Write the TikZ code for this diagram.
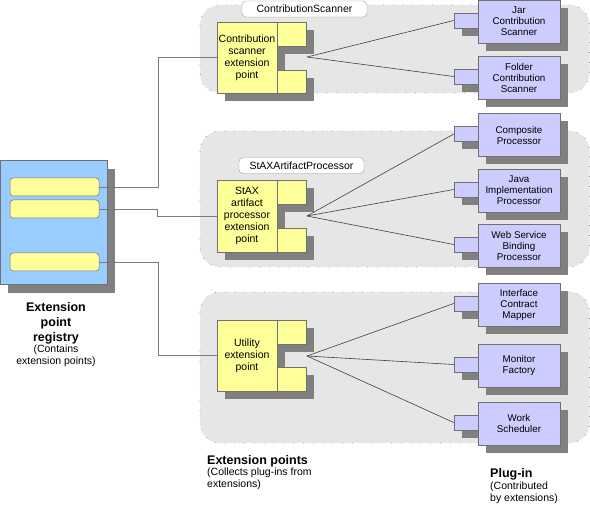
\documentclass[tikz,border=0pt]{standalone}
\usepackage{fontspec}
\setmainfont{Liberation Sans}
\definecolor{regblue}{HTML}{99CCFF}
\definecolor{epyellow}{HTML}{FFFF99}
\definecolor{plav}{HTML}{CCCCFF}
\definecolor{contgray}{HTML}{E6E6E6}
\definecolor{shgray}{HTML}{808080}
\definecolor{edgecol}{HTML}{707070}
\definecolor{linecol}{HTML}{404040}
\definecolor{reglinecol}{HTML}{7A7A7A}
\begin{document}
\begin{tikzpicture}[x=1pt,y=-1pt,
  container/.style={fill=contgray,draw=gray!80,line width=0.8pt,dash pattern=on 0.8pt off 9pt,rounded corners=20pt},
  clabel/.style={fill=white,draw=gray!80,rounded corners=4pt,minimum width=125pt,minimum height=16pt,inner sep=0pt,font=\fontsize{10.5}{12}\selectfont},
  shadowbox/.style={fill=shgray,draw=none,inner sep=0pt},
  epmain/.style={fill=epyellow,draw=edgecol,line width=0.5pt,minimum width=60pt,inner sep=1pt,align=center,font=\fontsize{10.5}{12}\selectfont},
  eptab/.style={fill=epyellow,draw=edgecol,line width=0.5pt,minimum width=29pt,inner sep=0pt},
  pbox/.style={fill=plav,draw=edgecol,line width=0.5pt,minimum width=82pt,minimum height=43pt,inner sep=1pt,align=center,font=\fontsize{9.8}{11}\selectfont},
  lolli/.style={fill=plav,draw=edgecol,line width=0.5pt,minimum width=24pt,minimum height=15pt,inner sep=0pt},
  regbox/.style={fill=regblue,draw=edgecol,line width=0.5pt,minimum width=107pt,minimum height=124pt,inner sep=0pt},
  regbar/.style={fill=epyellow,draw=edgecol,line width=0.5pt,rounded corners=3pt,minimum width=89pt,minimum height=18pt,inner sep=0pt},
  conn/.style={draw=linecol,line width=0.6pt},
  regconn/.style={draw=reglinecol,line width=0.7pt},
  boldlabel/.style={font=\fontsize{12.5}{15}\selectfont\bfseries,inner sep=0pt},
  smalllabel/.style={font=\fontsize{10.5}{12}\selectfont,inner sep=0pt}
]
\useasboundingbox (0,0) rectangle (590,505);

% containers
\draw[container] (200,5) rectangle (589.5,93);
\draw[container] (200,131) rectangle (589.5,267);
\draw[container] (200,292) rectangle (589.5,443);

\node[clabel] (cl1) at (304.5,9) {ContributionScanner};
\node[clabel] (cl2) at (301.5,165.5) {StAXArtifactProcessor};

% registry
\node[shadowbox,minimum width=107pt,minimum height=124pt] (regsh) at (61.5,231) {};
\node[regbox] (reg) at (53.5,222) {};
\node[regbar] (bar1) at (54.5,187) {};
\node[regbar] (bar2) at (54.5,209) {};
\node[regbar] (bar3) at (54.5,262) {};
\node[boldlabel,align=center,anchor=north] (regt) at (56,302) {Extension\\point\\registry};
\node[smalllabel,align=center,anchor=north] (regs) at (56,345) {(Contains\\extension points)};

% extension point macro: name, centre y, height, tab1 h, tab2 h, text
\newcommand\mkextpt[6]{%
  \node[shadowbox,minimum width=60pt,minimum height=#3pt] (#1sh) at (255,#2+8) {};
  \node[shadowbox,minimum width=29pt,minimum height=#4pt,anchor=north] (#1tash) at (299.5,#2-#3/2+8) {};
  \node[shadowbox,minimum width=29pt,minimum height=#5pt,anchor=south] (#1tbsh) at (299.5,#2+#3/2+8) {};
  \node[epmain,minimum height=#3pt] (#1) at (247,#2) {#6};
  \node[eptab,minimum height=#4pt,anchor=north west] (#1ta) at (#1.north east) {};
  \node[eptab,minimum height=#5pt,anchor=south west] (#1tb) at (#1.south east) {};
}
\mkextpt{ep1}{57.5}{71}{24}{23}{Contribution\\scanner\\extension\\point}
\mkextpt{ep2}{216}{72}{24}{24}{StAX\\artifact\\processor\\extension\\point}
\mkextpt{ep3}{355.5}{71}{24}{24}{Utility\\extension\\point}

\coordinate (v1) at (307,57);
\coordinate (v2) at (307,216);
\coordinate (v3) at (307,356);

% plug-ins: name, centre y, text
\newcommand\mkplugin[3]{%
  \node[shadowbox,minimum width=24pt,minimum height=15pt] (#1lsh) at (474,#2+7) {};
  \node[shadowbox,minimum width=82pt,minimum height=43pt] (#1sh) at (527,#2+8) {};
  \node[pbox] (#1) at (519,#2) {#3};
  \node[lolli] (#1l) at (466,#2-1) {};
}
\mkplugin{p1}{21.5}{Jar\\Contribution\\Scanner}
\mkplugin{p2}{77.5}{Folder\\Contribution\\Scanner}
\mkplugin{p3}{135}{Composite\\Processor}
\mkplugin{p4}{190.5}{Java\\Implementation\\Processor}
\mkplugin{p5}{245.5}{Web Service\\Binding\\Processor}
\mkplugin{p6}{304.5}{Interface\\Contract\\Mapper}
\mkplugin{p7}{365.5}{Monitor\\Factory}
\mkplugin{p8}{423.5}{Work\\Scheduler}

% connectors ext point -> plug-ins
\draw[conn] (v1) -- (p1l.west);
\draw[conn] (v1) -- (p2l.west);
\draw[conn] (v2) -- (p3l.west);
\draw[conn] (v2) -- (p4l.west);
\draw[conn] (v2) -- (p5l.west);
\draw[conn] (v3) -- (p6l.west);
\draw[conn] (v3) -- (p7l.west);
\draw[conn] (v3) -- (p8l.west);

% registry -> ext points
\coordinate (j1) at (158,0);
\coordinate (j2) at (157,0);
\draw[regconn] (bar1.east) -- (bar1.east -| j1) |- (ep1.west);
\draw[regconn] (bar2.east) -- (bar2.east -| j2) |- (ep2.west);
\draw[regconn] (bar3.east) -- (bar3.east -| j1) |- (ep3.west);

% bottom labels
\node[boldlabel,anchor=north west] (eplab) at (207,455) {Extension points};
\node[smalllabel,align=left,anchor=north west] (epsub) at (207,468) {(Collects plug-ins from\\extensions)};
\node[boldlabel,anchor=north west] (pllab) at (490,468) {Plug-in};
\node[smalllabel,align=left,anchor=north west] (plsub) at (490,482) {(Contributed\\by extensions)};
\end{tikzpicture}
\end{document}
